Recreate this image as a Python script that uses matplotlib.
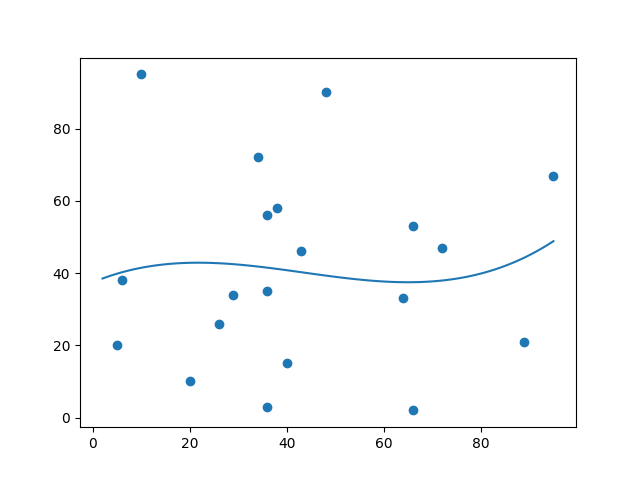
import numpy as np
import matplotlib
matplotlib.use("Agg")
import matplotlib.pyplot as plt

x_vals = [10, 48, 34, 95, 38, 36, 66, 72, 43, 6, 29, 36, 64, 26, 5, 89, 20, 40, 36, 66]
y_vals = [95, 90, 72, 67, 58, 56, 53, 47, 46, 38, 34, 35, 33, 26, 20, 21, 10, 15, 3, 2]
fit_start = 2
fit_end = 95

x = np.array(x_vals, dtype=float)
y = np.array(y_vals, dtype=float)
coef = np.polyfit(x, y, 3)
xs = np.linspace(fit_start, fit_end, 100)
ys = np.polyval(coef, xs)

fig, ax = plt.subplots(figsize=(6.4, 4.8), dpi=100)
ax.scatter(x, y)
ax.plot(xs, ys)
fig.savefig("out.png")
